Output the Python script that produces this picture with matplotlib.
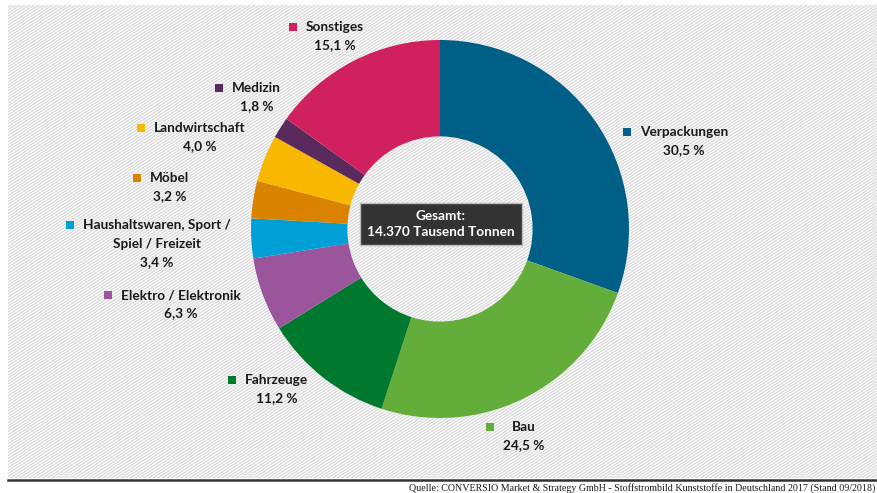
import matplotlib
matplotlib.use("Agg")
import matplotlib.pyplot as plt
import numpy as np
from matplotlib.collections import LineCollection
from matplotlib.patches import Rectangle

# ---- data ----
categories = ["Verpackungen", "Bau", "Fahrzeuge", "Elektro / Elektronik",
              "Haushaltswaren, Sport /\nSpiel / Freizeit", "Möbel",
              "Landwirtschaft", "Medizin", "Sonstiges"]
shares = [30.5, 24.5, 11.2, 6.3, 3.4, 3.2, 4.0, 1.8, 15.1]
pct_labels = ["30,5 %", "24,5 %", "11,2 %", "6,3 %", "3,4 %", "3,2 %",
              "4,0 %", "1,8 %", "15,1 %"]
colors = ["#005f86", "#63ae3a", "#00782e", "#9b559c", "#00a0d7",
          "#d98300", "#f8b800", "#5b2a5c", "#d0215e"]
center_text = "Gesamt:\n14.370 Tausend Tonnen"
source_text = ("Quelle: CONVERSIO Market & Strategy GmbH - Stoffstrombild "
               "Kunststoffe in Deutschland 2017 (Stand 09/2018)")

# ---- layout (pixel positions of label blocks: marker x, first-line y) ----
W, H = 877, 493
label_pos = [(627, 132), (490, 427), (232, 380), (108, 295), (70, 225),
             (137, 178), (141, 128), (219, 88), (293, 27)]

FONT = "Lato"
FS = 9.8
fig = plt.figure(figsize=(W / 100, H / 100), dpi=100)
fig.patch.set_facecolor("white")

def fx(x):
    return x / W

def fy(y):
    return 1 - y / H

# background hatching
x0, y0, x1, y1 = 8, 5, 877, 478
clip = Rectangle((fx(x0), fy(y1)), fx(x1) - fx(x0), fy(y0) - fy(y1),
                 transform=fig.transFigure, facecolor="none", edgecolor="none")
fig.add_artist(clip)
slope = 0.65
L = 1000
segs = []
step = 4.6
for c in np.arange(-L, 1000, step):
    segs.append([(fx(c), fy(y1 + 5)), (fx(c + L), fy(y1 + 5 - slope * L))])
lc = LineCollection(segs, colors="#dcdcdc", linewidths=1.05,
                    transform=fig.transFigure, zorder=0)
lc.set_clip_path(clip)
fig.add_artist(lc)

# bottom rule
fig.add_artist(plt.Line2D([fx(8), fx(877)], [fy(479.5), fy(479.5)],
                          color="#333333", linewidth=1.8,
                          transform=fig.transFigure))
fig.text(fx(875), fy(488), source_text, family="Liberation Serif",
         fontsize=7.2, color="#1a1a1a", va="center", ha="right")

# donut
cx, cy, R = 440, 229, 189
ax = fig.add_axes([fx(cx - R), fy(cy + R), 2 * R / W, 2 * R / H])
ax.set_facecolor("none")
ax.pie(shares, colors=colors, startangle=90, counterclock=False, radius=1,
       wedgeprops=dict(width=0.51, linewidth=0))
ax.set_xlim(-1, 1)
ax.set_ylim(-1, 1)
ax.axis("off")

# center box
fig.text(fx(441), fy(224), center_text, family=FONT, fontweight="bold",
         fontsize=FS, color="white", ha="center", va="center",
         linespacing=1.45,
         bbox=dict(boxstyle="square,pad=0.5", facecolor="#333333",
                   edgecolor="#bbbbbb", linewidth=1))

# labels: marker + block of centered lines
fig.canvas.draw()
renderer = fig.canvas.get_renderer()
for name, pct, col, (mx, my) in zip(categories, pct_labels, colors, label_pos):
    lines = name.split("\n") + [pct]
    left = mx + 13
    widths = []
    for ln in lines:
        tmp = fig.text(0, 0, ln, family=FONT, fontweight="bold", fontsize=FS)
        widths.append(tmp.get_window_extent(renderer).width)
        tmp.remove()
    block_c = left + max(widths) / 2
    fig.add_artist(Rectangle((fx(mx - 4), fy(my + 4)), 8 / W, 8 / H,
                             transform=fig.transFigure, facecolor=col,
                             edgecolor="none"))
    for i, ln in enumerate(lines):
        fig.text(fx(block_c), fy(my + 18.5 * i), ln, family=FONT,
                 fontweight="bold", fontsize=FS, color="#1a1a1a",
                 ha="center", va="center")

fig.savefig("out.png", dpi=100, facecolor="white")
